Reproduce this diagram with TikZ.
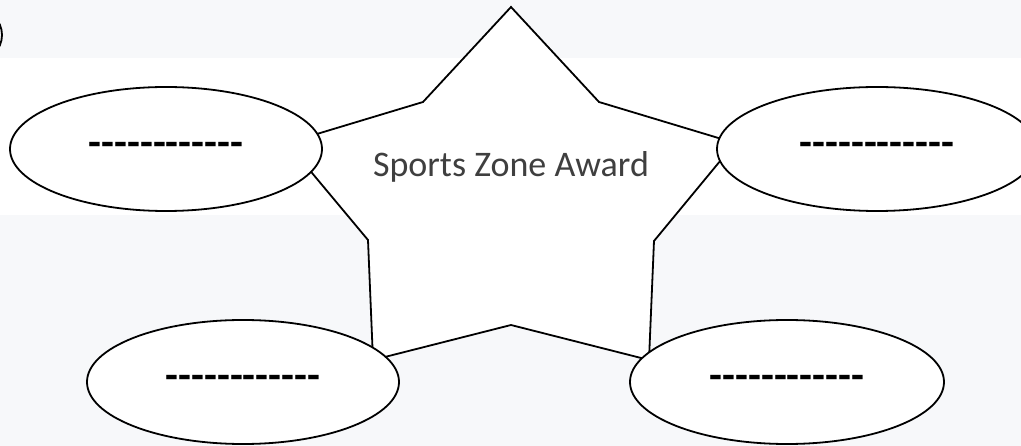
\documentclass[tikz,border=0pt]{standalone}
\usepackage{fontspec}
\setmainfont{Carlito}
\usetikzlibrary{shapes.geometric}
\definecolor{pagebg}{HTML}{F7F8FA}
\definecolor{labelgray}{HTML}{3F3F3F}
\newcommand\blankdashes{-{}-{}-{}-{}-{}-{}-{}-{}-{}-{}-{}-}
\tikzset{
  blank/.style={ellipse, draw=black, line width=1.8pt, fill=white,
    minimum height=124pt, inner sep=0pt,
    font=\fontsize{42}{42}\selectfont\bfseries},
  starline/.style={draw=black, line width=1.8pt, fill=white, line join=miter},
}
\begin{document}
\begin{tikzpicture}[x=1pt,y=-1pt]
	\useasboundingbox (0,0) rectangle (1021,446);
	\fill[pagebg] (0,0) rectangle (1021,446);
	\fill[white] (0,58) rectangle (1021,215);
	% bit of a shape cut off at the left edge
	\begin{scope}
		\clip (0,0) rectangle (1021,446);
		\draw[line width=1.8pt] (-24,35) circle (26);
	\end{scope}
	% star
	\coordinate (top) at (511,7);
	\coordinate (innerul) at (423,102);
	\coordinate (left) at (287,143);
	\coordinate (innerl) at (368,240);
	\coordinate (lowl) at (373,360);
	\coordinate (innerb) at (511,325);
	\coordinate (lowr) at (649,360);
	\coordinate (innerr) at (654,241);
	\coordinate (right) at (735,143);
	\coordinate (innerur) at (599,102);
	\filldraw[starline] (top) -- (innerul) -- (left) -- (innerl) -- (lowl) -- (innerb)
		-- (lowr) -- (innerr) -- (right) -- (innerur) -- cycle;
	\node[text=labelgray, font=\fontsize{36}{36}\selectfont] (award) at (511,167) {Sports Zone Award};
	% blanks to fill in
	\foreach \n/\x/\y/\w in {tl/166/149/312, tr/877/149/320, bl/243/382/312, br/787/382/314}{
		\node[blank, minimum width=\w pt] (\n) at (\x,\y) {\blankdashes};
	}
\end{tikzpicture}
\end{document}
